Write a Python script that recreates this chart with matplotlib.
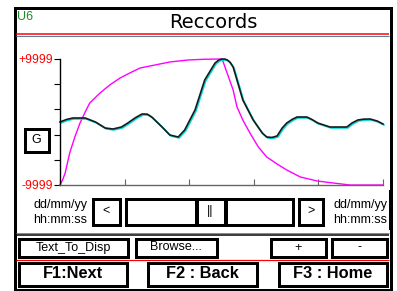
import matplotlib.pyplot as plt
from matplotlib.patches import Rectangle
import matplotlib.transforms as mtransforms
import numpy as np

# signal traces (x in samples 0..500, y in counts)
x_trace = [0, 10, 20, 39, 55, 70, 82, 95, 105, 117, 127, 135, 142, 150, 158, 170, 183, 193, 209,
           224, 240, 246, 251, 255, 259, 263, 268, 283, 299, 313, 320, 328, 336, 344, 351, 360,
           367, 382, 390, 399, 418, 444, 452, 461, 470, 480, 491, 500]
y_trace = [0, 400, 636, 636, 0, -951, -1110, -800, -158, 700, 1270, 1250, 794, 0, -793, -2062,
           -2380, -1268, 1905, 6666, 9364, 9850, 9990, 9990, 9850, 9500, 8729, 3492, 318, -1745,
           -2380, -2450, -2221, -951, -158, 450, 794, 794, 400, -158, -793, -793, -158, 317, 450,
           476, 159, -317]

x_env = [0, 4, 8, 15, 23, 31, 39, 46, 62, 77, 93, 108, 124, 147, 170, 198, 224, 251,
         268, 274, 283, 294, 307, 320, 336, 351, 372, 398, 423, 449, 475, 500]
y_env = [-9999, -9200, -8093, -4919, -2380, -158, 1588, 3016, 4603, 5873, 6984, 7777, 8571, 9047,
         9523, 9840, 9960, 9999, 5079, 2381, 318, -1745, -3967, -5554, -6665, -7617, -8727, -9362,
         -9680, -9999, -9999, -9999]

y_limits = [-9999, 9999]
y_labels = ['-9999', '', '', '', '', '+9999']
x_ticks = [0, 100, 200, 300, 400, 500]

W, H = 397, 291
fig = plt.figure(figsize=(W / 100, H / 100), dpi=100)
plt.rcParams['font.family'] = ['Liberation Sans', 'DejaVu Sans']
PX = 0.72  # points per pixel

bg = fig.add_axes([0, 0, 1, 1])
bg.set_xlim(0, W)
bg.set_ylim(H, 0)
bg.axis('off')


def box(x0, y0, x1, y1, lw=3, ec='black', fc='white'):
    h = lw / 2
    bg.add_patch(Rectangle((x0 + h, y0 + h), x1 - x0 - lw, y1 - y0 - lw,
                           lw=lw * PX, ec=ec, fc=fc))


def hline(y, x0, x1, color, lw=1):
    bg.plot([x0, x1], [y, y], color=color, lw=lw * PX, solid_capstyle='butt')


# outer frame
box(13, 6, 392, 291, lw=3)

bg.text(17, 17, 'U6', color='#1f8a2a', fontsize=9, va='center', ha='left')
bg.text(213, 22, 'Reccords', fontsize=14, family='DejaVu Sans', va='center', ha='center')
hline(34, 16, 389, 'red', 1.5)
hline(35.8, 16, 389, '#5a7fa0', 1)

# G button
box(23, 127, 50, 153, lw=3)
bg.text(36.5, 140, 'G', fontsize=9, ha='center', va='center')

# timeline controls
bg.text(33, 205, 'dd/mm/yy', fontsize=9, va='center', ha='left')
bg.text(33, 220, 'hh:mm:ss', fontsize=9, va='center', ha='left')
bg.text(333, 205, 'dd/mm/yy', fontsize=9, va='center', ha='left')
bg.text(333, 220, 'hh:mm:ss', fontsize=9, va='center', ha='left')
bg.add_patch(Rectangle((389, 190), 3, 40, fc='black', ec='none', zorder=5))
box(91, 197, 121, 226)
bg.text(106, 211, '<', fontsize=9, ha='center', va='center')
box(124, 197, 197, 226)
box(195, 197, 226, 226)
bg.text(210.5, 211, '||', fontsize=9, ha='center', va='center')
box(224, 197, 294, 226)
box(297, 197, 324, 226)
bg.text(310.5, 211, '>', fontsize=9, ha='center', va='center')

hline(232.5, 16, 389, '#8a8a8a', 1)
hline(234.5, 16, 389, 'black', 1.5)

# option row
box(17, 237, 129, 258)
bg.text(73, 247.5, 'Text_To_Disp', fontsize=9, ha='center', va='center')
box(134, 237, 218, 258)
bg.text(176, 247.5, 'Browse...', fontsize=9, ha='center', va='center')
box(269, 237, 327, 258)
bg.text(298, 247.5, '+', fontsize=9, ha='center', va='center')
box(330, 237, 388, 258)
bg.text(359, 247.5, '-', fontsize=9, ha='center', va='center')

hline(259.5, 16, 389, 'red', 1.2)

# function keys
for x0, x1, label in [(17, 128, 'F1:Next'), (146, 258, 'F2 : Back'), (277, 388, 'F3 : Home')]:
    box(x0, 261, x1, 287)
    bg.text((x0 + x1) / 2, 274, label, fontsize=11.8, weight='bold', ha='center', va='center')

# chart
ax = fig.add_axes([60 / W, 1 - 185 / H, 323 / W, 126 / H])
ax.set_facecolor('none')
ax.set_xlim(0, 500)
ax.set_ylim(*y_limits)
for s in ['top', 'right']:
    ax.spines[s].set_visible(False)
ax.spines['left'].set_color('black')
ax.spines['left'].set_linewidth(1)
ax.spines['bottom'].set_color('#666666')
ax.spines['bottom'].set_linewidth(1)
ax.set_yticks(np.linspace(y_limits[0], y_limits[1], 6))
ax.set_yticklabels(y_labels)
ax.tick_params(axis='y', direction='out', length=4, width=0.8, colors='black',
               labelcolor='red', labelsize=8.7, pad=1)
ax.set_xticks(x_ticks)
ax.set_xticklabels([])
ax.tick_params(axis='x', direction='in', length=4, width=0.8, colors='#666666')

ax.plot(x_env, y_env, color='#ff00ff', lw=1, clip_on=False, solid_joinstyle='round')
shift = mtransforms.offset_copy(ax.transData, fig=fig, x=0.7, y=-0.7, units='points')
ax.plot(x_trace, y_trace, color='#00d8d8', lw=1.2, transform=shift, clip_on=False,
        solid_joinstyle='round')
ax.plot(x_trace, y_trace, color='#1a1a1a', lw=1.2, clip_on=False, solid_joinstyle='round')

fig.savefig('out.png', dpi=100)
